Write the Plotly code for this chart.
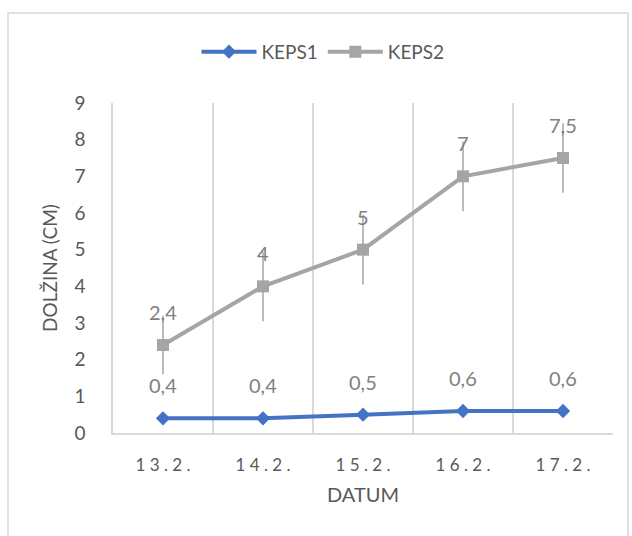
import plotly.graph_objects as go

# Measured shoot length per day
dates = ["13.2.", "14.2.", "15.2.", "16.2.", "17.2."]
date_labels = ["1 3 . 2 .", "1 4 . 2 .", "1 5 . 2 .", "1 6 . 2 .", "1 7 . 2 ."]
keps1 = [0.4, 0.4, 0.5, 0.6, 0.6]
keps2 = [2.4, 4, 5, 7, 7.5]
keps2_err = [0.8, 0.95, 0.95, 0.95, 0.95]

BLUE = "#4472c4"
GRAY = "#a5a5a5"
TEXT = "#595959"
LABEL = "#808080"
GRID = "#d9d9d9"
FONT = "Lato, Open Sans, sans-serif"

fig = go.Figure()

fig.add_trace(go.Scatter(
    x=dates, y=keps1, name="KEPS1", mode="lines+markers",
    line=dict(color=BLUE, width=4),
    marker=dict(symbol="diamond", size=11, color=BLUE),
))
fig.add_trace(go.Scatter(
    x=dates, y=keps2, name="KEPS2", mode="lines+markers",
    line=dict(color=GRAY, width=4),
    marker=dict(symbol="square", size=12, color=GRAY),
    error_y=dict(type="data", array=keps2_err, visible=True,
                 color=GRAY, thickness=1.5, width=0),
))

# Value labels above each point
def fmt(v):
    return f"{v:g}".replace(".", ",")

for series in (keps1, keps2):
    for d, v in zip(dates, series):
        fig.add_annotation(x=d, y=v, text=fmt(v), showarrow=False,
                           yshift=33, font=dict(family=FONT, size=20, color=LABEL))

# Outer chart frame
fig.add_shape(type="rect", xref="paper", yref="paper",
              x0=-0.21, x1=1.03, y0=-0.34, y1=1.273,
              line=dict(color=GRID, width=1.5), fillcolor="rgba(0,0,0,0)",
              layer="below")

fig.update_layout(
    width=632, height=536,
    margin=dict(l=113, r=19, t=103, b=103, autoexpand=False),
    paper_bgcolor="white", plot_bgcolor="white",
    font=dict(family=FONT, color=TEXT),
    showlegend=True,
    legend=dict(orientation="h", x=0.42, xanchor="center", y=1.155, yanchor="middle",
                font=dict(family=FONT, size=19, color=TEXT), itemwidth=55),
    xaxis=dict(
        type="category", categoryorder="array", categoryarray=dates,
        tickvals=dates, ticktext=date_labels,
        range=[-0.5, 4.5], tickson="boundaries",
        showgrid=True, gridcolor=GRID, gridwidth=1.5,
        showline=True, linecolor=GRID, linewidth=1.5, mirror=False,
        ticks="", ticklabelstandoff=16,
        tickfont=dict(family=FONT, size=17, color=TEXT),
        title=dict(text="DATUM", font=dict(family=FONT, size=20, color=TEXT), standoff=14),
        zeroline=False,
    ),
    yaxis=dict(
        range=[0, 9], dtick=1, tick0=0,
        showgrid=False, zeroline=False,
        showline=True, linecolor=GRID, linewidth=1.5,
        ticks="", ticklabelstandoff=22,
        tickfont=dict(family=FONT, size=19, color=TEXT),
        title=dict(text="DOLŽINA (CM)", font=dict(family=FONT, size=19, color=TEXT), standoff=12),
    ),
)

fig.write_html("out.html")
